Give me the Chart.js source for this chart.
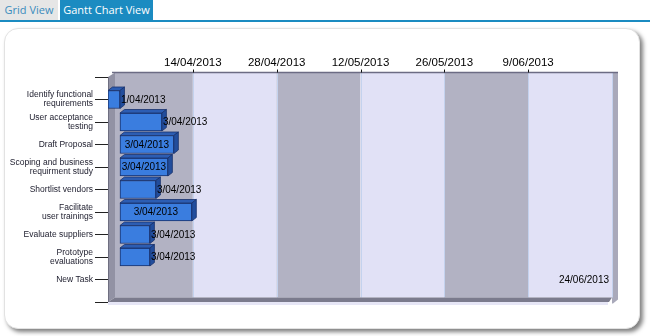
<!DOCTYPE html>
<html><head><meta charset="utf-8">
<script src="https://cdn.jsdelivr.net/npm/chart.js@4.4.0/dist/chart.umd.min.js"></script>
<style>
html,body{margin:0;padding:0;background:#fff;width:650px;height:336px;overflow:hidden;font-family:"Open Sans",sans-serif;}
.tabs{position:absolute;left:0;top:0;width:650px;height:20px;border-bottom:2px solid #1b8bc1;}
.tab{position:absolute;top:0;height:20px;line-height:20px;font-size:11px;text-align:center;}
.t1{left:0;width:58px;background:#e6e6e6;color:#3a8bbd;}
.t2{left:60px;width:93px;background:#1b8bc1;color:#fff;}
.panel{position:absolute;left:4px;top:28px;width:634px;height:299px;border:1px solid #e2e2e2;border-radius:14px;box-shadow:3px 3px 4px rgba(0,0,0,.5);background:#fff;}
#c{position:absolute;left:0;top:0;}
</style></head>
<body>
<div class="tabs"><div class="tab t1">Grid View</div><div class="tab t2">Gantt Chart View</div></div>
<div class="panel"></div>
<canvas id="c" width="650" height="336"></canvas>
<script>
// ---- data ----
const categories = [
  ['Identify functional','requirements'],
  ['User acceptance','testing'],
  'Draft Proposal',
  ['Scoping and business','requirment study'],
  'Shortlist vendors',
  ['Facilitate','user trainings'],
  'Evaluate suppliers',
  ['Prototype','evaluations'],
  'New Task'
];
const startDates = ['2013-04-01','2013-04-03','2013-04-03','2013-04-03','2013-04-03','2013-04-03','2013-04-03','2013-04-03','2013-06-24'];
const durationDays = [2,7,9,8,6,12,5,5,0];
const tickDates = ['2013-04-14','2013-04-28','2013-05-12','2013-05-26','2013-06-09'];
const axisStart = '2013-04-01';
const axisEnd = '2013-06-23';

// ---- helpers ----
const DAY = 86400000;
const t0 = Date.parse(axisStart + 'T00:00:00Z');
const toDay = s => Math.round((Date.parse(s + 'T00:00:00Z') - t0) / DAY);
const fmt = d => { const dt = new Date(t0 + d * DAY); return dt.getUTCDate() + '/' + String(dt.getUTCMonth() + 1).padStart(2, '0') + '/' + dt.getUTCFullYear(); };

const labels = [''].concat(categories, ['']);
const barData = [null].concat(startDates.map((s, i) => [toDay(s), toDay(s) + durationDays[i]]), [null]);
const tickValues = tickDates.map(toDay);

const DX = 7, DY = -4.5;     // back wall offset
const BDX = 4.5, BDY = 3.5;  // bar depth

function poly(ctx, pts, fill, stroke, lw) {
  ctx.beginPath();
  ctx.moveTo(pts[0][0], pts[0][1]);
  for (let i = 1; i < pts.length; i++) ctx.lineTo(pts[i][0], pts[i][1]);
  ctx.closePath();
  if (fill) { ctx.fillStyle = fill; ctx.fill(); }
  if (stroke) { ctx.strokeStyle = stroke; ctx.lineWidth = lw || 1; ctx.stroke(); }
}

const wallPlugin = {
  id: 'wall',
  beforeDatasetsDraw(chart) {
    const { ctx, chartArea: a, scales: { x } } = chart;
    const L = a.left, R = a.right, T = a.top, B = a.bottom;
    ctx.save();
    const bounds = [x.min].concat(tickValues, [x.max]);
    for (let i = 0; i < bounds.length - 1; i++) {
      const x1 = x.getPixelForValue(bounds[i]) + DX, x2 = x.getPixelForValue(bounds[i + 1]) + DX;
      ctx.fillStyle = i % 2 === 0 ? '#b2b2c3' : '#e1e1f6';
      ctx.fillRect(x1, T + DY, x2 - x1, B - T);
    }
    ctx.strokeStyle = '#c4d2ee'; ctx.lineWidth = 1;
    tickValues.forEach(v => {
      const px = Math.round(x.getPixelForValue(v) + DX) + 0.5;
      ctx.beginPath(); ctx.moveTo(px, T + DY); ctx.lineTo(px, B + DY); ctx.stroke();
    });
    // right strip
    poly(ctx, [[R + DX, T + DY], [R + DX + 6, T + DY], [R + DX + 6, B + DY + 2], [R + DX + 1, B + DY + 6], [R + DX, B + DY + 6]], '#a9a9ba');
    ctx.strokeStyle = '#c4d2ee';
    ctx.beginPath(); ctx.moveTo(R + DX + 0.5, T + DY); ctx.lineTo(R + DX + 0.5, B + DY); ctx.stroke();
    // left wall
    poly(ctx, [[L, T], [L + DX, T + DY], [L + DX, B + DY], [L, B]], '#9292a4');
    ctx.strokeStyle = '#6e6e80';
    ctx.beginPath(); ctx.moveTo(L + 0.5, T); ctx.lineTo(L + 0.5, B); ctx.stroke();
    // floor
    poly(ctx, [[L, B], [L + DX, B + DY], [R + DX, B + DY], [R + DX - 3, B]], '#7b7b8d');
    ctx.fillStyle = '#e6e6f6';
    ctx.fillRect(L, B, R - L + 3, 3);
    // top edge and tick marks
    ctx.strokeStyle = '#6c6c84'; ctx.lineWidth = 1.5;
    ctx.beginPath(); ctx.moveTo(L + DX - 3, T + DY); ctx.lineTo(R + DX + 6, T + DY); ctx.stroke();
    ctx.strokeStyle = '#111'; ctx.lineWidth = 1;
    tickValues.forEach(v => {
      const px = Math.round(x.getPixelForValue(v) + DX) + 0.5;
      ctx.beginPath(); ctx.moveTo(px, T + DY - 3); ctx.lineTo(px, T + DY); ctx.stroke();
    });
    ctx.restore();
  },
  afterDatasetsDraw(chart) {
    const { ctx, chartArea: a } = chart;
    const meta = chart.getDatasetMeta(0);
    ctx.save();
    meta.data.forEach((bar, i) => {
      const raw = barData[i];
      if (!raw) return;
      const p = bar.getProps(['x', 'base', 'y', 'height'], true);
      const x1 = Math.min(p.x, p.base), x2 = Math.max(p.x, p.base);
      const t = p.y - p.height / 2, b = p.y + p.height / 2;
      if (x2 - x1 > 0.5 && x2 <= a.right + 1) {
        poly(ctx, [[x1, t], [x1 + BDX, t - BDY], [x2 + BDX, t - BDY], [x2, t]], '#2c5db3', '#1a326c', 0.8);
        poly(ctx, [[x2, t], [x2 + BDX, t - BDY], [x2 + BDX, b - BDY], [x2, b]], '#224d9c', '#1a326c', 0.8);
      }
      // label
      const txt = fmt(raw[0]);
      ctx.font = '10px "Liberation Sans", Arial, sans-serif';
      ctx.fillStyle = '#000';
      ctx.textBaseline = 'middle';
      const tw = ctx.measureText(txt).width;
      if (tw + 1 <= x2 - x1) {
        ctx.textAlign = 'center';
        ctx.fillText(txt, (x1 + x2) / 2, p.y + 0.5);
      } else if (x2 + 1 + tw > a.right + DX - 2) {
        ctx.textAlign = 'right';
        ctx.fillText(txt, a.right + 4, p.y + 0.5);
      } else {
        ctx.textAlign = 'left';
        ctx.fillText(txt, x2 + 1, p.y + 0.5);
      }
    });
    ctx.restore();
  }
};

new Chart(document.getElementById('c'), {
  type: 'bar',
  data: {
    labels: labels,
    datasets: [{
      data: barData,
      backgroundColor: '#3a7ddf',
      borderColor: '#1a326c',
      borderWidth: c => (barData[c.dataIndex] && barData[c.dataIndex][1] > barData[c.dataIndex][0]) ? 1 : 0,
      borderSkipped: false,
      barThickness: 18
    }]
  },
  options: {
    indexAxis: 'y',
    responsive: false,
    animation: false,
    devicePixelRatio: 1,
    layout: { padding: { left: 0, right: 45, top: 40, bottom: 34 } },
    plugins: { legend: { display: false }, tooltip: { enabled: false } },
    scales: {
      x: {
        type: 'linear',
        position: 'top',
        min: toDay(axisStart),
        max: toDay(axisEnd),
        afterBuildTicks: s => { s.ticks = tickValues.map(v => ({ value: v })); },
        afterFit: s => { s.height = 37; },
        border: { display: false },
        grid: { drawOnChartArea: false, drawTicks: true, tickLength: 5, color: 'rgba(0,0,0,0)' },
        ticks: {
          callback: v => fmt(v),
          labelOffset: DX,
          padding: 2,
          maxRotation: 0,
          autoSkip: false,
          color: '#000',
          font: { family: '"Liberation Sans", Arial, sans-serif', size: 11.5 }
        }
      },
      y: {
        type: 'category',
        offset: false,
        afterFit: s => { s.width = 108; },
        border: { display: false },
        grid: { offset: false, drawOnChartArea: false, drawTicks: true, tickLength: 13, color: '#222', lineWidth: 1 },
        ticks: {
          autoSkip: false,
          padding: 2,
          color: '#1c1c2c',
          font: { family: '"Liberation Sans", Arial, sans-serif', size: 8.5, lineHeight: 1.05 }
        }
      }
    }
  },
  plugins: [wallPlugin]
});
</script>
</body></html>
